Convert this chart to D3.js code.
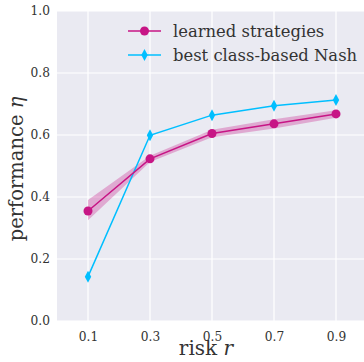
<!DOCTYPE html>
<html>
<head>
<meta charset="utf-8">
<script src="https://cdn.jsdelivr.net/npm/d3@7"></script>
<style>
  body { margin: 0; background: #fff; }
  svg { display: block; }
  text { font-family: 'DejaVu Serif'; }
</style>
</head>
<body>
<div id="chart"></div>
<script>
const risks = [0.1, 0.3, 0.5, 0.7, 0.9];
const learned = [0.355, 0.523, 0.605, 0.636, 0.668];
const learnedLow = [0.325, 0.513, 0.593, 0.621, 0.656];
const learnedHigh = [0.39, 0.533, 0.617, 0.651, 0.68];
const nash = [0.143, 0.599, 0.664, 0.694, 0.713];
const xTicks = [0.1, 0.3, 0.5, 0.7, 0.9];
const yTicks = [0.0, 0.2, 0.4, 0.6, 0.8, 1.0];
const seriesNames = ["learned strategies", "best class-based Nash"];

const width = 364, height = 362;
const margin = {top: 11, right: -3, bottom: 41, left: 57};
const innerWidth = width - margin.left - margin.right;
const innerHeight = height - margin.top - margin.bottom;
const magenta = "#c71585", cyan = "#00bfff";
const serif = "'DejaVu Serif'";

const svg = d3.select("#chart").append("svg")
  .attr("width", width)
  .attr("height", height);

const g = svg.append("g")
  .attr("transform", `translate(${margin.left},${margin.top})`);

const x = d3.scaleLinear().domain([0, 1]).range([0, innerWidth]);
const y = d3.scaleLinear().domain([0, 1]).range([innerHeight, 0]);

g.append("rect")
  .attr("width", innerWidth)
  .attr("height", innerHeight)
  .attr("fill", "#eaeaf2");

// grid
g.selectAll(".vgrid").data(xTicks).enter().append("line")
  .attr("x1", d => x(d)).attr("x2", d => x(d))
  .attr("y1", 0).attr("y2", innerHeight)
  .attr("stroke", "#fff").attr("stroke-width", 1.2);
g.selectAll(".hgrid").data(yTicks).enter().append("line")
  .attr("y1", d => y(d)).attr("y2", d => y(d))
  .attr("x1", 0).attr("x2", innerWidth)
  .attr("stroke", "#fff").attr("stroke-width", 1.2);

// axes (labels only)
const xAxis = d3.axisBottom(x).tickValues(xTicks).tickFormat(d3.format(".1f")).tickSize(0).tickPadding(11);
const yAxis = d3.axisLeft(y).tickValues(yTicks).tickFormat(d3.format(".1f")).tickSize(0).tickPadding(7);

const gX = g.append("g").attr("transform", `translate(0,${innerHeight})`).call(xAxis);
const gY = g.append("g").call(yAxis);
[gX, gY].forEach(a => {
  a.attr("font-family", null).attr("font-size", null);
  a.select(".domain").remove();
  a.selectAll("text").attr("fill", "#333").style("font-size", "12.2px").style("font-family", serif);
});

// band
const rows = risks.map((r, i) => ({r, v: learned[i], lo: learnedLow[i], hi: learnedHigh[i], n: nash[i]}));
g.append("path")
  .datum(rows)
  .attr("fill", magenta).attr("fill-opacity", 0.3)
  .attr("d", d3.area().x(d => x(d.r)).y0(d => y(d.lo)).y1(d => y(d.hi)));

const line = key => d3.line().x(d => x(d.r)).y(d => y(d[key]));

g.append("path").datum(rows)
  .attr("fill", "none").attr("stroke", cyan).attr("stroke-width", 1.5)
  .attr("d", line("n"));

const diamond = "M0,-6L3.2,0L0,6L-3.2,0Z";
g.selectAll(".nash").data(rows).enter().append("path")
  .attr("d", diamond)
  .attr("transform", d => `translate(${x(d.r)},${y(d.n)})`)
  .attr("fill", cyan);

g.append("path").datum(rows)
  .attr("fill", "none").attr("stroke", magenta).attr("stroke-width", 1.5)
  .attr("d", line("v"));

g.selectAll(".learned").data(rows).enter().append("circle")
  .attr("cx", d => x(d.r)).attr("cy", d => y(d.v))
  .attr("r", 4.5).attr("fill", magenta);

// legend
const legend = svg.append("g").attr("transform", "translate(128,31)");
const legendItems = legend.selectAll("g").data(seriesNames).enter().append("g")
  .attr("transform", (d, i) => `translate(0,${i * 24})`);
legendItems.append("line")
  .attr("x1", 0).attr("x2", 33)
  .attr("stroke", (d, i) => i === 0 ? magenta : cyan).attr("stroke-width", 1.5);
legendItems.each(function(d, i) {
  const s = d3.select(this);
  if (i === 0) s.append("circle").attr("cx", 16.5).attr("r", 4.5).attr("fill", magenta);
  else s.append("path").attr("d", diamond).attr("transform", "translate(16.5,0)").attr("fill", cyan);
});
legendItems.append("text")
  .attr("x", 45).attr("dy", "0.35em")
  .attr("fill", "#333").style("font-size", "16.4px").style("font-family", serif)
  .text(d => d);

// axis labels
svg.append("text")
  .attr("x", 206).attr("y", 355)
  .attr("text-anchor", "middle").attr("fill", "#333")
  .style("font-size", "20px").style("font-family", serif)
  .html('risk <tspan font-style="italic">r</tspan>');

svg.append("text")
  .attr("transform", `translate(23,${margin.top + y(0.5) + 3}) rotate(-90)`)
  .attr("text-anchor", "middle").attr("fill", "#333")
  .style("font-size", "19.5px").style("font-family", serif)
  .html('performance <tspan font-style="italic">η</tspan>');
</script>
</body>
</html>
